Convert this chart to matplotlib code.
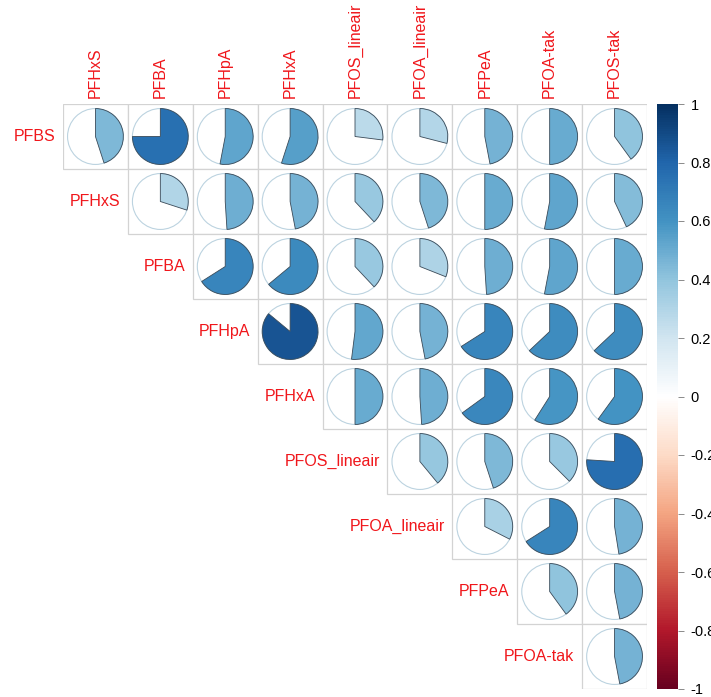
import matplotlib
matplotlib.use("Agg")
import matplotlib.pyplot as plt
from matplotlib.patches import Wedge, Circle, Rectangle
from matplotlib.colors import LinearSegmentedColormap, Normalize
import matplotlib.colorbar as mcolorbar

plt.rcParams['font.family'] = ['Liberation Sans', 'DejaVu Sans']

rows = ["PFBS", "PFHxS", "PFBA", "PFHpA", "PFHxA", "PFOS_lineair",
        "PFOA_lineair", "PFPeA", "PFOA-tak"]
cols = ["PFHxS", "PFBA", "PFHpA", "PFHxA", "PFOS_lineair", "PFOA_lineair",
        "PFPeA", "PFOA-tak", "PFOS-tak"]

r_PFBS = [0.45, 0.75, 0.53, 0.55, 0.27, 0.29, 0.47, 0.50, 0.40]
r_PFHxS = [0.30, 0.49, 0.47, 0.38, 0.45, 0.50, 0.53, 0.43]
r_PFBA = [0.66, 0.64, 0.38, 0.31, 0.49, 0.53, 0.50]
r_PFHpA = [0.86, 0.52, 0.47, 0.66, 0.63, 0.63]
r_PFHxA = [0.50, 0.49, 0.65, 0.59, 0.60]
r_PFOS_lineair = [0.39, 0.45, 0.375, 0.76]
r_PFOA_lineair = [0.325, 0.66, 0.475]
r_PFPeA = [0.40, 0.47]
r_PFOA_tak = [0.47]

values = [r_PFBS, r_PFHxS, r_PFBA, r_PFHpA, r_PFHxA, r_PFOS_lineair,
          r_PFOA_lineair, r_PFPeA, r_PFOA_tak]

cb_ticks = [-1, -0.8, -0.6, -0.4, -0.2, 0, 0.2, 0.4, 0.6, 0.8, 1]
cb_labels = ["-1", "-0.8", "-0.6", "-0.4", "-0.2", "0", "0.2", "0.4", "0.6", "0.8", "1"]

rdbu = ["#67001F", "#B2182B", "#D6604D", "#F4A582", "#FDDBC7", "#FFFFFF",
        "#D1E5F0", "#92C5DE", "#4393C3", "#2166AC", "#053061"]
cmap = LinearSegmentedColormap.from_list("corrRdBu", rdbu, N=256)
norm = Normalize(-1, 1)

W, H = 711, 697
fig = plt.figure(figsize=(W / 100, H / 100), dpi=100)

gx0, gx1, gy0, gy1 = 63, 647, 104, 689
ax = fig.add_axes([gx0 / W, 1 - gy1 / H, (gx1 - gx0) / W, (gy1 - gy0) / H])
n = len(cols)
ax.set_xlim(0, n)
ax.set_ylim(0, n)
ax.axis("off")

rad = 0.43
grid_col = "#D3D3D3"
for i, rowvals in enumerate(values):
    for k, v in enumerate(rowvals):
        j = i + k
        x0 = j
        y0 = n - 1 - i
        ax.add_patch(Rectangle((x0, y0), 1, 1, facecolor="white",
                               edgecolor=grid_col, lw=0.9, zorder=1))
        cx, cy = x0 + 0.5, y0 + 0.5
        ax.add_patch(Circle((cx, cy), rad, facecolor="white",
                            edgecolor="#BCD3E0", lw=0.8, zorder=2))
        ax.add_patch(Wedge((cx, cy), rad, 90 - 360 * v, 90,
                           facecolor=cmap(norm(v)), edgecolor="#3A4A58",
                           lw=0.6, zorder=3))

label_color = "#F0161B"
for j, c in enumerate(cols):
    ax.text(j + 0.5, n + 0.1, c, rotation=90, ha="center", va="bottom",
            color=label_color, fontsize=11.5)
for i, r in enumerate(rows):
    ax.text(i - 0.12, n - 1 - i + 0.5, r, ha="right", va="center",
            color=label_color, fontsize=11.5)

cax = fig.add_axes([657 / W, 1 - gy1 / H, 21 / W, (gy1 - gy0) / H])
cb = mcolorbar.ColorbarBase(cax, cmap=cmap, norm=norm, orientation="vertical")
cb.outline.set_visible(False)
cb.set_ticks(cb_ticks)
cb.set_ticklabels(cb_labels)
cax.tick_params(axis="y", length=4, width=0.6, color="#777777", pad=5,
                labelsize=10.5)

fig.savefig("out.png", dpi=100)
